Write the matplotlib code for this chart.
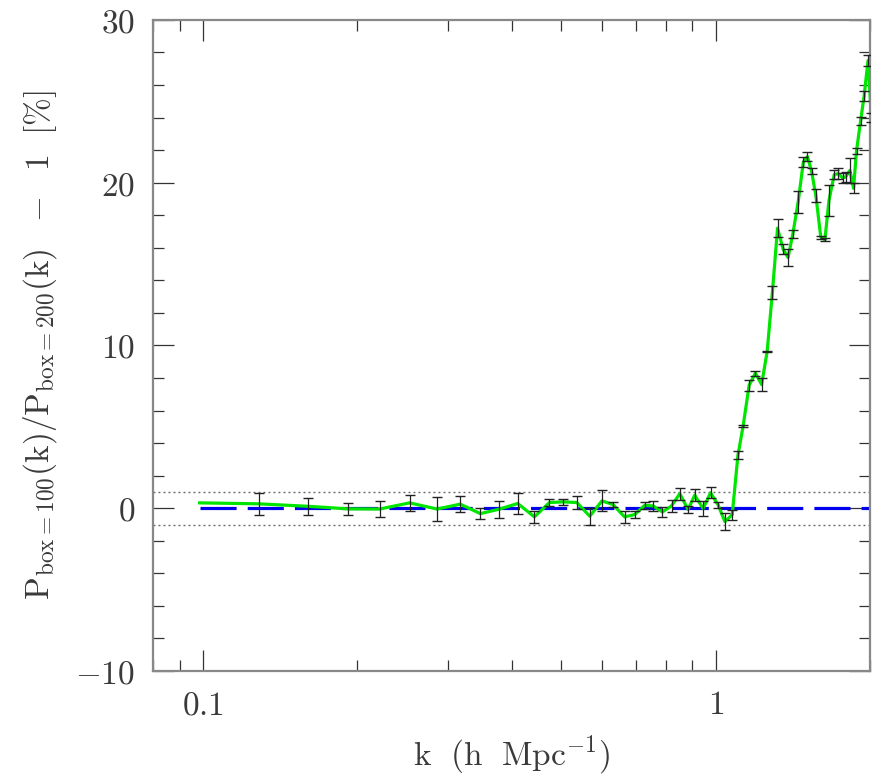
import numpy as np
import matplotlib
matplotlib.use("Agg")
import matplotlib.pyplot as plt
from matplotlib.ticker import FixedLocator, FuncFormatter, MultipleLocator, NullFormatter

plt.rcParams['mathtext.fontset'] = 'cm'
plt.rcParams['font.family'] = ['DejaVu Serif']
plt.rcParams['lines.scale_dashes'] = False

# ---- data ----
k = [0.0985, 0.1285, 0.160, 0.192, 0.221, 0.253, 0.286, 0.3175, 0.3475, 0.378,
     0.411, 0.443, 0.474, 0.504, 0.536, 0.568, 0.600, 0.630, 0.664, 0.695,
     0.727, 0.755, 0.787, 0.820, 0.851, 0.883, 0.910, 0.945, 0.977, 1.011,
     1.042, 1.077, 1.105, 1.131, 1.162, 1.195, 1.229, 1.260, 1.290, 1.320,
     1.354, 1.384, 1.414, 1.448, 1.482, 1.510, 1.538, 1.568, 1.603, 1.633,
     1.663, 1.703, 1.733, 1.768, 1.792, 1.827, 1.857, 1.882, 1.917, 1.947,
     1.982, 2.012]
ratio = [0.33, 0.27, 0.12, -0.04, -0.05, 0.33, -0.05, 0.25, -0.33, -0.06,
         0.29, -0.53, 0.35, 0.39, 0.35, -0.49, 0.45, 0.23, -0.53, -0.39,
         0.18, 0.14, -0.23, 0.14, 0.90, -0.08, 0.80, -0.02, 0.95, 0.20,
         -0.82, -0.40, 3.25, 5.05, 7.55, 8.30, 7.60, 9.63, 13.27, 17.20,
         15.90, 15.40, 16.85, 18.80, 21.25, 21.60, 20.70, 19.20, 16.65, 16.50,
         18.90, 20.50, 20.55, 20.30, 20.35, 20.75, 19.65, 21.95, 23.80, 25.30,
         27.50, 24.00]
err = [np.nan, 0.66, 0.51, 0.39, 0.49, 0.51, 0.74, 0.49, 0.35, 0.53,
       0.65, 0.39, 0.20, 0.20, 0.38, 0.51, 0.64, 0.15, 0.36, 0.20,
       0.20, 0.33, 0.30, 0.36, 0.37, 0.20, 0.36, 0.45, 0.33, 0.20,
       0.52, 0.30, 0.25, 0.05, 0.35, 0.15, 0.40, 0.05, 0.40, 0.55,
       0.30, 0.50, 0.27, 0.67, 0.30, 0.27, 0.20, 0.42, 0.10, 0.10,
       0.95, 0.30, 0.35, 0.30, 0.30, 0.75, 0.30, 0.20, 0.25, 0.30,
       0.35, 0.30]
band = 1.0            # dotted +/- 1 per cent lines
x_limits = (0.08, 2.0)
y_limits = (-10, 30)
x_labels = {0.1: '0.1', 1.0: '1'}

# ---- figure ----
fig = plt.figure(figsize=(8.86, 7.78), dpi=100)
ax = fig.add_axes([0.173, 0.1375, 0.809, 0.837])
ax.set_xscale('log')
ax.set_xlim(*x_limits)
ax.set_ylim(*y_limits)

ax.plot(x_limits, [band, band], color='#666666', lw=1.0, linestyle=(0, (1.4, 2.2)), zorder=1)
ax.plot(x_limits, [-band, -band], color='#666666', lw=1.0, linestyle=(0, (1.4, 2.2)), zorder=1)
ax.plot([k[0], x_limits[1] * 1.2], [0, 0], color='#0000ee', lw=2.3,
        dashes=(26, 8), zorder=2, clip_on=True)

ax.plot(k, ratio, color='#00e600', lw=2.3, zorder=3)
eb = ax.errorbar(k, ratio, yerr=err, fmt='none', ecolor='#222222', elinewidth=0.9,
                 capsize=3.6, capthick=1.0, zorder=4)
for cl in eb[1]:
    cl.set_color('#808080')

# ---- axes styling ----
txt_color = '#3a3a3a'
for s in ax.spines.values():
    s.set_color('#888888')
    s.set_linewidth(1.6)

ax.xaxis.set_major_locator(FixedLocator([0.1, 1.0]))
ax.xaxis.set_minor_locator(FixedLocator([0.08, 0.09, 0.2, 0.3, 0.4, 0.5, 0.6, 0.7, 0.8, 0.9, 2.0]))
ax.xaxis.set_major_formatter(FuncFormatter(lambda v, p: r'$\mathrm{%s}$' % x_labels.get(round(v, 3), '')))
ax.xaxis.set_minor_formatter(NullFormatter())
ax.yaxis.set_major_locator(MultipleLocator(10))
ax.yaxis.set_minor_locator(MultipleLocator(2))
ax.yaxis.set_major_formatter(FuncFormatter(lambda v, p: r'$%d$' % v))

ax.tick_params(which='both', direction='in', top=True, right=True, color='#333333', width=0.9)
ax.tick_params(which='major', length=15)
ax.tick_params(which='minor', length=7.7)
ax.tick_params(axis='x', which='major', labelsize=24, pad=13, labelcolor=txt_color)
ax.tick_params(axis='y', which='major', labelsize=24, pad=13, labelcolor=txt_color)

ax.set_xlabel(r'$\mathrm{k\ \ (h\ \ Mpc^{-1})}$', fontsize=24, color=txt_color, labelpad=9)
ax.set_ylabel(r'$\mathrm{P_{box{=}100}(k)/P_{box{=}200}(k)\ \ -\ \ 1\ \ [\%]}$',
              fontsize=24, color=txt_color, labelpad=12)

fig.savefig('out.png', dpi=100)
